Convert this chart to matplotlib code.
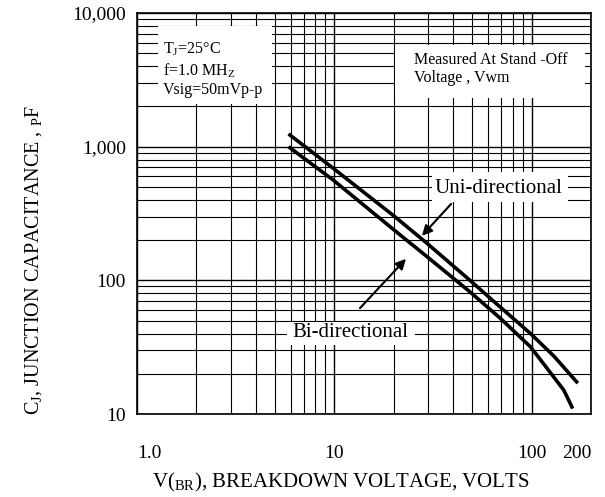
import matplotlib
matplotlib.use('Agg')
import matplotlib.pyplot as plt
from matplotlib.patches import Rectangle

plt.rcParams['font.family'] = ['Liberation Serif', 'DejaVu Serif']
plt.rcParams['mathtext.fontset'] = 'custom'
plt.rcParams['mathtext.rm'] = 'Liberation Serif'

# Data
uni_v = [5.96, 9.89, 20.3, 29.4, 48.7, 69.4, 98.5, 130, 169]
uni_c = [1222, 688, 299, 190, 100, 63, 40.1, 27, 17.4]

bi_v = [5.96, 9.89, 20.3, 29.4, 48.7, 69.4, 98.5, 123.8, 145.5, 160]
bi_c = [981, 562, 235, 151, 82, 52, 31.9, 20.6, 15.1, 11.3]

x_ticks = [1, 10, 100, 200]
x_labels = ['1.0', '10', '100', '200']
y_ticks = [10, 100, 1000, 10000]
y_labels = ['10', '100', '1,000', '10,000']

fig = plt.figure(figsize=(6.05, 4.97), dpi=100)
ax = fig.add_axes([0.2264, 0.167, 0.7505, 0.8068])

ax.plot(uni_v, uni_c, color='black', lw=2.6, zorder=3, solid_joinstyle='round')
ax.plot(bi_v, bi_c, color='black', lw=2.6, zorder=3, solid_joinstyle='round')

ax.set_xscale('log')
ax.set_yscale('log')
ax.set_xlim(1, 200)
ax.set_ylim(10, 10000)

ax.set_axisbelow(True)
ax.grid(which='major', color='black', lw=1.0)
ax.grid(which='minor', color='black', lw=0.8)

ax.set_xticks(x_ticks)
ax.set_xticklabels(x_labels, fontsize=14)
ax.set_yticks(y_ticks)
ax.set_yticklabels(y_labels, fontsize=14)
ax.tick_params(which='both', length=0)
ax.tick_params(axis='x', pad=22)
ax.tick_params(axis='y', pad=8)
xl = ax.get_xticklabels()
xl[0].set_ha('left')
xl[-1].set_ha('right')

for s in ax.spines.values():
    s.set_linewidth(1.2)

# white boxes that cover the grid behind the notes
for (x0, y0, w, h) in [(0.046, 0.773, 0.251, 0.195),
                       (0.568, 0.788, 0.419, 0.132),
                       (0.650, 0.529, 0.299, 0.074),
                       (0.330, 0.172, 0.282, 0.057)]:
    ax.add_patch(Rectangle((x0, y0), w, h, transform=ax.transAxes,
                           facecolor='white', edgecolor='none', zorder=1))

ax.text(0.057, 0.900, r'T$\mathregular{_J}$=25°C', transform=ax.transAxes, fontsize=11.5)
ax.text(0.057, 0.843, r'f=1.0 MH$\mathregular{_Z}$', transform=ax.transAxes, fontsize=11.5)
ax.text(0.057, 0.798, 'Vsig=50mVp-p', transform=ax.transAxes, fontsize=11.5)

ax.text(0.610, 0.873, 'Measured At Stand -Off', transform=ax.transAxes, fontsize=11.5)
ax.text(0.610, 0.828, 'Voltage , Vwm', transform=ax.transAxes, fontsize=11.5)

ax.text(0.797, 0.550, 'Uni-directional', transform=ax.transAxes, fontsize=15, ha='center')
ax.text(0.471, 0.192, 'Bi-directional', transform=ax.transAxes, fontsize=15, ha='center')

ax.annotate('', xy=(27.2, 208), xycoords='data', xytext=(0.696, 0.529), textcoords='axes fraction',
            arrowprops=dict(arrowstyle='-|>', color='black', lw=1.5, mutation_scale=15), zorder=4)
ax.annotate('', xy=(23.6, 150), xycoords='data', xytext=(0.487, 0.259), textcoords='axes fraction',
            arrowprops=dict(arrowstyle='-|>', color='black', lw=1.5, mutation_scale=15), zorder=4)

fig.text(341 / 605, 1 - 482 / 497, r'V($\mathregular{_{BR}}$), BREAKDOWN VOLTAGE, VOLTS',
         fontsize=15, ha='center', va='center')
fig.text(34 / 605, 1 - 260 / 497, r'C$\mathregular{_J}$, JUNCTION CAPACITANCE , $\mathregular{_P}$F',
         fontsize=14.5, ha='center', va='center', rotation=90)

fig.savefig('out.png', dpi=100)
